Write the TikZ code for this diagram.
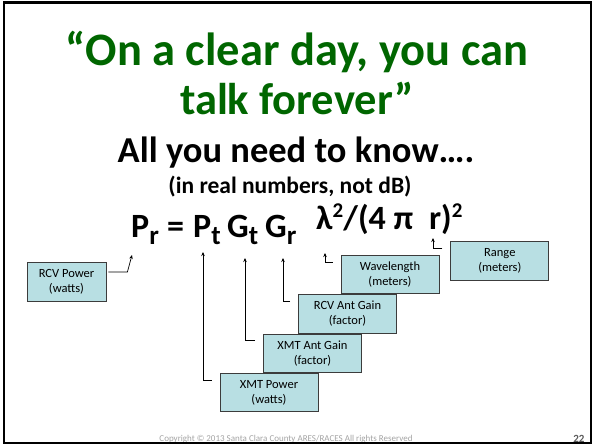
\documentclass[tikz,border=0pt]{standalone}
\usepackage{fontspec}
\setmainfont{Carlito}
\usepackage{xcolor}
\usetikzlibrary{arrows.meta,positioning}
\definecolor{verde}{HTML}{006600}
\definecolor{aqua}{HTML}{B8DFE3}
\definecolor{borda}{HTML}{3C3C3C}
\definecolor{cinza}{HTML}{A3A3A3}
\definecolor{numero}{HTML}{595959}
\newcommand{\lo}[1]{\raisebox{-7pt}{\fontsize{27}{27}\selectfont #1}}
\newcommand{\hi}[1]{\raisebox{12pt}{\fontsize{21}{21}\selectfont #1}}

\begin{document}
\begin{tikzpicture}[
    x=1pt, y=-1pt,
    tag/.style={draw=borda, line width=0.8pt, fill=aqua, minimum width=98pt, minimum height=38.5pt, inner sep=0pt, align=center, font=\fontsize{12.5}{15}\selectfont},
    term/.style={anchor=base west, inner sep=0pt, font=\bfseries\fontsize{34}{34}\selectfont},
    ptr/.style={-{Stealth[length=4pt, width=3.5pt]}, line width=0.7pt}
  ]
    \useasboundingbox (0,0) rectangle (595,445);
    % heading
    \node[anchor=base, text=verde, font=\bfseries\fontsize{46.5}{46.5}\selectfont] (t1) at (297,65) {“On a clear day, you can};
    \node[anchor=base, text=verde, font=\bfseries\fontsize{44.5}{44.5}\selectfont] (t2) at (297,114) {talk forever”};
    \node[anchor=base, font=\bfseries\fontsize{36.5}{36.5}\selectfont] (all) at (296,162) {All you need to know….};
    \node[anchor=base, font=\bfseries\fontsize{23.5}{23.5}\selectfont] (note) at (290,193) {(in real numbers, not dB)};
    % formula
    \node[term] (pr) at (131,237) {P\lo{r}};
    \node[term] (eq) at (167,237) {=};
    \node[term] (pt) at (193,237) {P\lo{t}};
    \node[term] (gt) at (227,237) {G\lo{t}};
    \node[term] (gr) at (265,237) {G\lo{r}};
    \node[term] (lam) at (316,229) {λ\hi{2}/(4 π};
    \node[term] (rr) at (429,229) {r};
    \node[term] (cl) at (441,229) {)\hi{2}};
    % boxes
    \node[tag, minimum width=79pt] (rcvp) at (66.5,282) {RCV Power\\(watts)};
    \node[tag] (xmtp) at (269,392.5) {XMT Power\\(watts)};
    \node[tag, above=0pt of xmtp, xshift=43.5pt] (xmtg) {XMT Ant Gain\\(factor)};
    \node[tag, above=0pt of xmtg, xshift=35pt] (rcvg) {RCV Ant Gain\\(factor)};
    \node[tag, above=0pt of rcvg, xshift=42.5pt] (wave) {Wavelength\\(meters)};
    \node[tag, right=11pt of wave, yshift=13.5pt] (range) {Range\\(meters)};
    % pointers
    \draw[ptr] ([xshift=2pt,yshift=10pt]rcvp.east) -- ++(19,0) -- ([xshift=1pt,yshift=-18pt]pr.base west);
    \draw[ptr] ([xshift=-8pt,yshift=-7pt]xmtp.north west) -| ([xshift=10pt,yshift=-15pt]pt.base west);
    \draw[ptr] ([xshift=-8pt,yshift=-7pt]xmtg.north west) -| ([xshift=18pt,yshift=-21pt]gt.base west);
    \draw[ptr] ([xshift=-8pt,yshift=-7pt]rcvg.north west) -| ([xshift=18pt,yshift=-21pt]gr.base west);
    \draw[ptr] ([xshift=-8pt,yshift=-7pt]wave.north west) -| ([xshift=9pt,yshift=-24pt]lam.base west);
    \draw[ptr] ([xshift=-8pt,yshift=-7pt]range.north west) -| ([xshift=4pt,yshift=-9pt]rr.base west);
    % footer
    \node[anchor=base, text=cinza, font=\fontsize{9}{9}\selectfont] (copy) at (286,441) {Copyright © 2013 Santa Clara County ARES/RACES All rights Reserved};
    \node[anchor=base east, text=numero, font=\bfseries\fontsize{11}{11}\selectfont] (pg) at (588,442) {22};
    \draw[line width=2.5pt] (4,2.5) rectangle (591,443);
  \end{tikzpicture}
\end{document}
